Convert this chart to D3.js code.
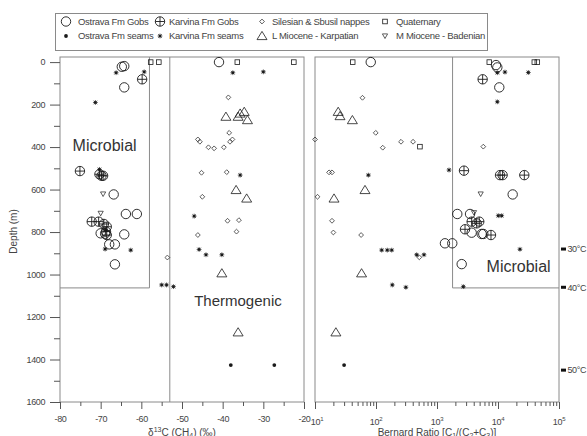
<!DOCTYPE html>
<html><head><meta charset="utf-8">
<script src="https://cdn.jsdelivr.net/npm/d3@7"></script>
<style>
body{margin:0;background:#fff;}
svg text{font-family:"Liberation Sans",Arial,sans-serif;}
</style></head><body>
<svg id="c" width="587" height="436"></svg>
<script>
// ---------------- DATA ----------------
// left panel: [delta13C CH4 (permil), depth (m)]
const ostravaGobsD13C = [[-40.9,0],[-64.8,22],[-64.2,19],[-64.2,119],[-66.8,623],[-63.8,715],[-61.1,715],[-70.0,806],[-64.2,811],[-68.9,808],[-67.9,858],[-66.5,858],[-66.5,952]];
const karvinaGobsD13C = [[-59.8,81],[-75.1,513],[-70.3,528],[-69.8,535],[-69.4,535],[-72.2,751],[-70.5,751],[-69.2,762],[-68.5,775],[-68.7,798],[-68.5,814]];
const silesianD13C = [[-38.6,166],[-38.4,333],[-46.1,364],[-45.6,375],[-43.5,401],[-42.1,406],[-39.7,401],[-38.2,375],[-37.6,364],[-45.2,521],[-39.0,518],[-45.0,634],[-38.8,747],[-36.0,744],[-36.6,798],[-46.1,814],[-53.6,920]];
const quaternaryD13C = [[-57.7,0],[-55.7,0],[-36.4,0],[-22.5,0]];
const ostravaSeamsD13C = [[-38.0,1426],[-27.3,1426]];
const karvinaSeamsD13C = [[-66.2,50],[-59.3,46],[-37.5,50],[-30.0,46],[-71.3,190],[-70.3,505],[-35.7,532],[-47.0,725],[-68.8,790],[-45.8,882],[-68.9,880],[-62.6,885],[-44.1,907],[-40.2,907],[-55.0,1049],[-53.8,1049],[-52.1,1057]];
const karpatianD13C = [[-39.2,257],[-35.7,242],[-34.7,234],[-36.2,257],[-33.9,273],[-36.7,602],[-34.1,642],[-40.2,994],[-36.2,1272]];
const badenianD13C = [[-69.4,621],[-70.0,712]];

// right panel: [Bernard ratio C1/(C2+C3), depth (m)]
const ostravaGobsRatio = [[82,0],[9270,14],[9750,25],[10500,119],[17400,623],[2150,715],[3480,715],[3700,803],[5400,809],[5740,809],[1350,853],[1780,853],[2540,951]];
const karvinaGobsRatio = [[5600,81],[2770,511],[10800,532],[11900,532],[27000,532],[3700,751],[4480,759],[4930,751],[2880,787],[7670,814]];
const silesianRatio = [[60,168],[99,333],[10,364],[129,403],[257,375],[405,375],[5740,398],[17,519],[19,519],[11,634],[19,747],[20,802],[57,814],[513,919]];
const quaternaryRatio = [[41.5,0],[7200,0],[39400,0],[44100,0],[525,398]];
const ostravaSeamsRatio = [[30,1426]];
const karvinaSeamsRatio = [[9750,50],[13000,47],[31400,49],[9750,187],[1574,508],[75,532],[10100,723],[11500,723],[22900,881],[124,885],[153,885],[181,885],[464,907],[612,907],[185,1049],[309,1060],[2700,1057]];
const karpatianRatio = [[24,234],[25.7,254],[41,273],[66,602],[20.5,642],[58,994],[22,1272]];
const badenianRatio = [[5200,621],[4040,709]];

// axes / annotations
const d13cTicks = [-80,-70,-60,-50,-40,-30,-20];
const d13cMinorTicks = [-75,-65,-55,-45,-35,-25];
const depthTicks = [0,200,400,600,800,1000,1200,1400,1600];
const depthMinorTicks = [100,300,500,700,900,1100,1300,1500];
const ratioExponents = [1,2,3,4,5];
const tempLabels = ["30°C","40°C","50°C"];
const tempDepths = [880,1060,1450];
const legendLabels = ["Ostrava Fm Gobs","Ostrava Fm seams","Karvina Fm Gobs","Karvina Fm seams","Silesian & Sbusil nappes","L Miocene - Karpatian","Quaternary","M Miocene - Badenian"];
const legendSymbols = ["circle","dot","cross","star","diamond","triUp","square","triDown"];
const zoneLabels = ["Microbial","Thermogenic","Microbial"];
const microbialD13CMax = -58, thermogenicD13CMin = -53, microbialDepthMax = 1063, microbialRatioMin = 1800;

// ---------------- CHART ----------------
const svg = d3.select("#c");
const frameCol = "#8a8a8a", symCol = "#1a1a1a", textCol = "#444";
const yTop = 57, yBot = 402;
const y = d3.scaleLinear().domain([-24,1600]).range([yTop,yBot]);
const xL = d3.scaleLinear().domain([-80,-20]).range([60,304]);
const xR = d3.scaleLog().domain([10,1e5]).range([315,559]);

function sym(g, type, x, yy) {
  const sw = 0.9, R = 4.7;
  if (type==="circle") {
    g.append("circle").attr("cx",x).attr("cy",yy).attr("r",R).attr("fill","none").attr("stroke",symCol).attr("stroke-width",sw);
  } else if (type==="cross") {
    g.append("circle").attr("cx",x).attr("cy",yy).attr("r",R).attr("fill","none").attr("stroke",symCol).attr("stroke-width",sw);
    g.append("path").attr("d",`M${x-R},${yy}H${x+R}M${x},${yy-R}V${yy+R}`).attr("stroke",symCol).attr("stroke-width",sw);
  } else if (type==="diamond") {
    const r=2.4;
    g.append("path").attr("d",`M${x},${yy-r}L${x+r},${yy}L${x},${yy+r}L${x-r},${yy}Z`).attr("fill","none").attr("stroke",symCol).attr("stroke-width",0.7);
  } else if (type==="square") {
    g.append("rect").attr("x",x-2.3).attr("y",yy-2.3).attr("width",4.6).attr("height",4.6).attr("fill","none").attr("stroke",symCol).attr("stroke-width",0.8);
  } else if (type==="dot") {
    g.append("circle").attr("cx",x).attr("cy",yy).attr("r",1.9).attr("fill",symCol);
  } else if (type==="star") {
    const r=2.4;
    g.append("path").attr("d",`M${x-r},${yy}H${x+r}M${x},${yy-r}V${yy+r}M${x-r*0.75},${yy-r*0.75}L${x+r*0.75},${yy+r*0.75}M${x-r*0.75},${yy+r*0.75}L${x+r*0.75},${yy-r*0.75}`).attr("stroke",symCol).attr("stroke-width",0.7);
    g.append("rect").attr("x",x-1.2).attr("y",yy-1.2).attr("width",2.4).attr("height",2.4).attr("fill",symCol);
  } else if (type==="triUp") {
    g.append("path").attr("d",`M${x},${yy-4.6}L${x+5},${yy+3.6}L${x-5},${yy+3.6}Z`).attr("fill","none").attr("stroke",symCol).attr("stroke-width",0.8);
  } else if (type==="triDown") {
    g.append("path").attr("d",`M${x-2.6},${yy-2.1}L${x+2.6},${yy-2.1}L${x},${yy+2.5}Z`).attr("fill","none").attr("stroke",symCol).attr("stroke-width",0.7);
  }
}

// ---------- Legend ----------
const lg = svg.append("g");
lg.append("rect").attr("x",55.5).attr("y",13.5).attr("width",432).attr("height",37).attr("fill","#fff").attr("stroke",frameCol).attr("stroke-width",1);
const lgSymX = [66,160,262,385], lgTxtX = [78,169,272,396], lgRowY = [21.5,36];
legendLabels.forEach((lab,i)=>{
  const col = Math.floor(i/2), row = i%2;
  sym(lg, legendSymbols[i], lgSymX[col], lgRowY[row]);
  lg.append("text").attr("x",lgTxtX[col]).attr("y",lgRowY[row]+3.4).attr("font-size",9.5).attr("fill",textCol).attr("letter-spacing",-0.3).text(lab);
});

// ---------- Left panel ----------
const gl = svg.append("g");
gl.append("rect").attr("x",xL(-80)).attr("y",yTop).attr("width",xL(-20)-xL(-80)).attr("height",yBot-yTop).attr("fill","none").attr("stroke",frameCol).attr("stroke-width",1);
gl.append("path").attr("d",`M${xL(microbialD13CMax)},${yTop}V${y(microbialDepthMax)}H${xL(-80)}`).attr("fill","none").attr("stroke",frameCol).attr("stroke-width",1);
gl.append("line").attr("x1",xL(thermogenicD13CMin)).attr("x2",xL(thermogenicD13CMin)).attr("y1",yTop).attr("y2",yBot).attr("stroke",frameCol).attr("stroke-width",1);

gl.append("g").attr("transform",`translate(${xL(-80)},0)`)
  .call(d3.axisLeft(y).tickValues(depthTicks).tickSize(10).tickPadding(5).tickFormat(d=>String(d)));
gl.append("g").attr("transform",`translate(${xL(-80)},0)`)
  .call(d3.axisLeft(y).tickValues(depthMinorTicks).tickSize(6).tickFormat(""));
gl.append("g").attr("transform",`translate(0,${yBot})`)
  .call(d3.axisBottom(xL).tickValues(d13cTicks).tickSize(7).tickPadding(7).tickFormat(d=>String(d)));
gl.append("g").attr("transform",`translate(0,${yBot})`)
  .call(d3.axisBottom(xL).tickValues(d13cMinorTicks).tickSize(4).tickFormat(""));

// ---------- Right panel ----------
const gr = svg.append("g");
gr.append("rect").attr("x",xR(10)).attr("y",yTop).attr("width",xR(1e5)-xR(10)).attr("height",yBot-yTop).attr("fill","none").attr("stroke",frameCol).attr("stroke-width",1);
gr.append("path").attr("d",`M${xR(microbialRatioMin)},${yTop}V${y(microbialDepthMax)}H${xR(1e5)}`).attr("fill","none").attr("stroke",frameCol).attr("stroke-width",1);
const ratioMajor = ratioExponents.map(e=>Math.pow(10,e));
const ratioMinor = [];
ratioExponents.slice(0,-1).forEach(e=>{ for(let m=2;m<=9;m++) ratioMinor.push(m*Math.pow(10,e)); });
gr.append("g").attr("transform",`translate(0,${yBot})`)
  .call(d3.axisBottom(xR).tickValues(ratioMajor).tickSize(7).tickFormat(""));
gr.append("g").attr("transform",`translate(0,${yBot})`)
  .call(d3.axisBottom(xR).tickValues(ratioMinor).tickSize(4).tickFormat(""));

svg.selectAll(".domain").remove();
svg.selectAll(".tick line").attr("stroke","#555").attr("stroke-width",1);
svg.selectAll(".tick text").attr("fill",textCol).attr("font-size",9).attr("font-family","Liberation Sans, Arial, sans-serif").attr("letter-spacing",-0.4);

ratioExponents.forEach(e=>{
  const t = gr.append("text").attr("x",xR(Math.pow(10,e)) + (e===1?2:0)).attr("y",424.5).attr("text-anchor","middle").attr("font-size",9).attr("fill",textCol).attr("letter-spacing",-0.3);
  t.append("tspan").text("10");
  t.append("tspan").attr("font-size",6).attr("dy",-4).text(String(e));
});

// axis titles
svg.append("text").attr("transform",`translate(17,${(yTop+yBot)/2+2}) rotate(-90)`).attr("text-anchor","middle").attr("font-size",10).attr("fill",textCol).text("Depth (m)");
const tL = svg.append("text").attr("x",(xL(-80)+xL(-20))/2).attr("y",436).attr("text-anchor","middle").attr("font-size",10).attr("fill",textCol);
tL.append("tspan").text("δ");
tL.append("tspan").attr("font-size",7).attr("dy",-4).text("13");
tL.append("tspan").attr("dy",4).text("C (CH");
tL.append("tspan").attr("font-size",7).attr("dy",2).text("4");
tL.append("tspan").attr("dy",-2).text(") (‰)");
const tR = svg.append("text").attr("x",(xR(10)+xR(1e5))/2).attr("y",436).attr("text-anchor","middle").attr("font-size",10).attr("fill",textCol);
tR.append("tspan").text("Bernard Ratio [C");
tR.append("tspan").attr("font-size",7).attr("dy",2).text("1");
tR.append("tspan").attr("dy",-2).text("/(C");
tR.append("tspan").attr("font-size",7).attr("dy",2).text("2");
tR.append("tspan").attr("dy",-2).text("+C");
tR.append("tspan").attr("font-size",7).attr("dy",2).text("3");
tR.append("tspan").attr("dy",-2).text(")]");

// zone labels
svg.append("text").attr("x",xL(-76.9)).attr("y",y(417)).attr("font-size",16).attr("fill","#333").text(zoneLabels[0]);
svg.append("text").attr("x",xL(-47)).attr("y",y(1147)).attr("font-size",15).attr("fill","#333").text(zoneLabels[1]);
svg.append("text").attr("x",xR(6500)).attr("y",y(990)).attr("font-size",16).attr("fill","#333").text(zoneLabels[2]);

// temperature markers
tempDepths.forEach((d,i)=>{
  svg.append("rect").attr("x",xR(1e5)+2).attr("y",y(d)-1.5).attr("width",5).attr("height",3).attr("fill","#111");
  svg.append("text").attr("x",xR(1e5)+8.5).attr("y",y(d)+3.3).attr("font-size",9).attr("letter-spacing",-0.4).attr("fill",textCol).text(tempLabels[i]);
});

// ---------- data points ----------
const seriesL = [[quaternaryD13C,"square"],[silesianD13C,"diamond"],[karpatianD13C,"triUp"],[badenianD13C,"triDown"],[ostravaSeamsD13C,"dot"],[karvinaSeamsD13C,"star"],[karvinaGobsD13C,"cross"],[ostravaGobsD13C,"circle"]];
const seriesR = [[quaternaryRatio,"square"],[silesianRatio,"diamond"],[karpatianRatio,"triUp"],[badenianRatio,"triDown"],[ostravaSeamsRatio,"dot"],[karvinaSeamsRatio,"star"],[karvinaGobsRatio,"cross"],[ostravaGobsRatio,"circle"]];
const pl = svg.append("g");
seriesL.forEach(([arr,t])=>arr.forEach(p=>sym(pl,t,xL(p[0]),y(p[1]))));
const pr = svg.append("g");
seriesR.forEach(([arr,t])=>arr.forEach(p=>sym(pr,t,xR(p[0]),y(p[1]))));
</script>
</body></html>
